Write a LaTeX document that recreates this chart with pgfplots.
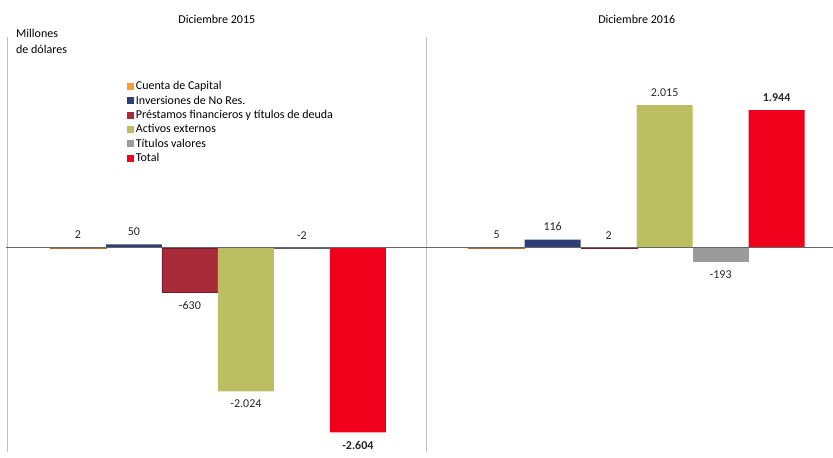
\documentclass[border=0pt]{standalone}
\usepackage{pgfplots}
\pgfplotsset{compat=1.18}
\usepackage{fontspec}
\setmainfont{Carlito}
\definecolor{cOr}{HTML}{F79D3A}
\definecolor{cNv}{HTML}{2F3E75}
\definecolor{cDr}{HTML}{A92B3A}
\definecolor{cOl}{HTML}{BBBF62}
\definecolor{cGy}{HTML}{9B9B9B}
\definecolor{cRd}{HTML}{F0001A}
\begin{document}
\begin{tikzpicture}[font=\fontsize{12}{14}\selectfont]
\begin{axis}[at={(0,0)}, anchor=south west, scale only axis,
  width=825pt, height=415pt,
  xmin=0, xmax=14.73, ymin=-2877, ymax=2976,
  hide axis, clip=false,
  ybar, bar width=1, bar shift=0pt,
  nodes near coords, point meta=y,
  every node near coord/.append style={font=\fontsize{12}{14}\selectfont, text=black!85, inner ysep=8.5pt},
  /pgf/number format/.cd, 1000 sep={.}, assume math mode=true,
  /pgfplots/.cd,
  legend image code/.code={\fill[#1,draw=none] (0pt,-3.5pt) rectangle (7pt,3.5pt);},
  legend cell align=left,
  legend style={draw=none, fill=none, at={(axis cs:2.12,2375)}, anchor=north west,
    font=\fontsize{12}{14}\selectfont, row sep=1.6pt, inner sep=0pt,
    nodes={inner xsep=2pt, inner ysep=1.5pt}},
]
\addplot[fill=cOr, draw=cOr!70!black, line width=0.5pt] coordinates {(1.25,2) (8.73,5)};
\addlegendentry{Cuenta de Capital}
\addplot[fill=cNv, draw=none] coordinates {(2.25,50) (9.73,116)};
\addlegendentry{Inversiones de No Res.}
\addplot[fill=cDr, draw=cDr!70!black, line width=0.3pt] coordinates {(3.25,-630) (10.73,2)};
\addlegendentry{Préstamos financieros y títulos de deuda}
\addplot[fill=cOl, draw=none] coordinates {(4.25,-2024) (11.73,2015)};
\addlegendentry{Activos externos}
\addplot[fill=cGy, draw=none] coordinates {(12.73,-193)};
\addlegendentry{Títulos valores}
\addplot[fill=cRd, draw=none, every node near coord/.append style={font=\fontsize{12}{14}\selectfont\bfseries}] coordinates {(6.25,-2604) (13.73,1944)};
\addlegendentry{Total}
\addplot[forget plot, fill=cGy, draw=cGy!60!black, line width=0.3pt, nodes near coords align={anchor=south}] coordinates {(5.25,-2)};
\draw[black!25, line width=1pt] (axis cs:0,-2877) -- (axis cs:0,2976);
\draw[black!25, line width=1pt] (axis cs:7.48,-2877) -- (axis cs:7.48,2976);
\draw[black!60, line width=0.8pt] (axis cs:-0.03,0) -- (axis cs:14.73,0);
\node at (axis cs:3.73,3230) {Diciembre 2015};
\node at (axis cs:11.23,3230) {Diciembre 2016};
\node[anchor=west, inner sep=0pt] at (axis cs:0.143,3020) {Millones};
\node[anchor=west, inner sep=0pt] at (axis cs:0.143,2800) {de dólares};
\end{axis}
\path[use as bounding box] (-8pt,0pt) rectangle (825pt,452pt);
\end{tikzpicture}
\end{document}
